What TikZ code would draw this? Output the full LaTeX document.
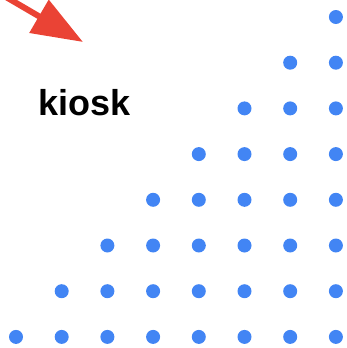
\documentclass[tikz,border=0pt]{standalone}
\usepackage{fontspec}
\setmainfont{Liberation Sans}
\usetikzlibrary{arrows.meta}
\definecolor{DotBlue}{RGB}{66,133,244}
\definecolor{ArrowRed}{RGB}{234,67,53}

\begin{document}
\begin{tikzpicture}[x=1pt, y=-1pt,
	dot/.style={fill=DotBlue},
	pointer/.style={ArrowRed, line width=6pt, -{Triangle[length=51pt, width=37pt]}}]
			\clip (0,0) rectangle (347,348);
			% grid of dots, lower right triangle
			\foreach \i in {0,...,7}{
				\foreach \j in {0,...,7}{
					\pgfmathtruncatemacro{\s}{\i+\j}
					\ifnum\s>6
						\fill[dot] (16+45.7*\i, 17+45.7*\j) circle (7);
					\fi
				}
			}
			\node[font=\bfseries\fontsize{36}{40}\selectfont, anchor=base west, inner sep=0] (label) at (38,115) {kiosk};
			\coordinate (tail) at (-6,-10);
			\coordinate (tip) at (83,42);
			\draw[pointer] (tail) -- (tip);
		\end{tikzpicture}
\end{document}
